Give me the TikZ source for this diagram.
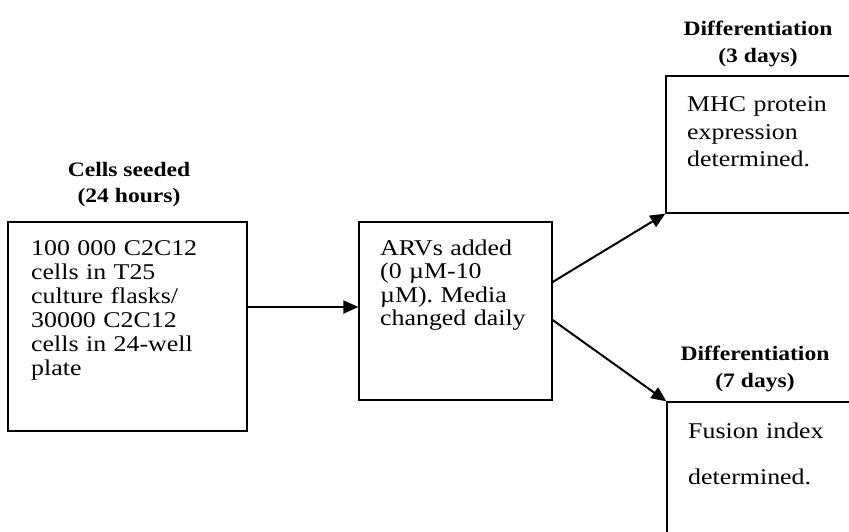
\documentclass[tikz,border=0pt]{standalone}
\usepackage{fontspec}
\setmainfont{Liberation Serif}[FakeStretch=1.15]
\usetikzlibrary{arrows.meta}
\begin{document}
\begin{tikzpicture}[x=1pt,y=-1pt,
  box/.style={draw, line width=1.3pt, rectangle, inner sep=0pt},
  body/.style={inner sep=0pt, anchor=base west, align=left, text width=260pt},
  head/.style={inner sep=0pt, anchor=base, align=center, font=\bfseries\fontsize{20.5}{27}\selectfont},
  arr/.style={line width=2pt, -{Triangle[length=15pt,width=13pt]}}]
\useasboundingbox (0,0) rectangle (849,532);
% boxes
\node[box, minimum width=239pt, minimum height=209pt] (b1) at (127.5,326.5) {};
\node[box, minimum width=193pt, minimum height=178pt] (b2) at (455.5,311) {};
\node[box, minimum width=284pt, minimum height=137pt] (b3) at (808,144.5) {};
\node[box, minimum width=283pt, minimum height=248pt] (b4) at (808.5,526) {};
% texts
\node[body, font=\fontsize{22.5}{24}\selectfont] (t1) at (31,255)
  {100 000 C2C12\\cells in T25\\culture flasks/\\30000 C2C12\\cells in 24-well\\plate};
\node[body, font=\fontsize{22.5}{23.5}\selectfont] (t2) at (380,255)
  {ARVs added\\(0 µM-10\\µM). Media\\changed daily};
\node[body, font=\fontsize{22.5}{27.5}\selectfont] (t3) at (687,112)
  {MHC protein\\expression\\determined.};
\node[body, font=\fontsize{22.5}{46}\selectfont] (t4) at (688,438)
  {Fusion index\\determined.};
% headings (anchored at the baseline of their last line)
\node[head] (h1) at (129,203) {Cells seeded\\(24 hours)};
\node[head] (h3) at (758,63) {Differentiation\\(3 days)};
\node[head] (h4) at (755,387) {Differentiation\\(7 days)};
% connectors
\draw[arr] ([yshift=19.5pt]b1.east) -- ([yshift=4pt]b2.west);
\draw[arr] ([yshift=29pt]b2.east) -- (b3.south west);
\draw[arr] ([yshift=-9pt]b2.east) -- (b4.north west);
\end{tikzpicture}
\end{document}
